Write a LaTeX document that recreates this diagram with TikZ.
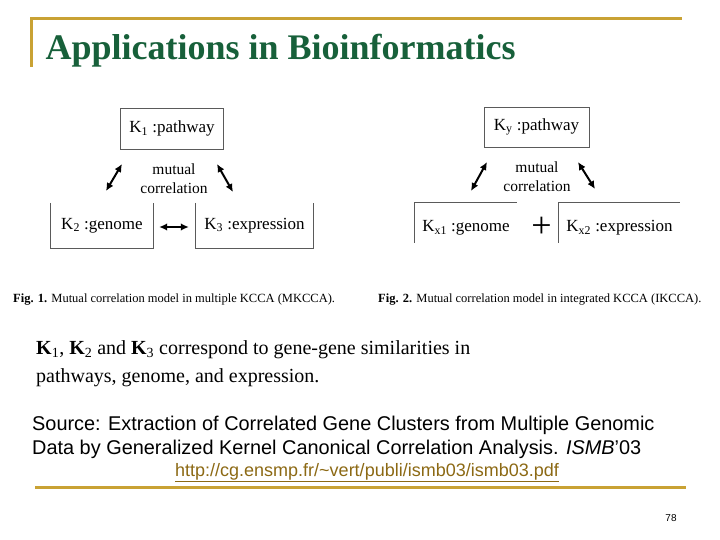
\documentclass[tikz,border=0pt]{standalone}
\usepackage{fontspec}
\setmainfont{Liberation Serif}
\newfontfamily\arialfont{Liberation Sans}
\usepackage{xcolor}
\usetikzlibrary{arrows.meta,positioning,calc}

\definecolor{slidegold}{RGB}{201,162,52}
\definecolor{titlegreen}{RGB}{23,96,58}
\definecolor{linkbrown}{RGB}{140,105,20}
\definecolor{boxgray}{RGB}{90,90,90}

\begin{document}
\begin{tikzpicture}[x=1pt, y=-1pt,
    boxline/.style={draw=boxgray, line width=0.8pt},
    kbox/.style={rectangle, inner sep=0pt, font=\fontsize{17}{20}\selectfont},
    mutual/.style={align=center, font=\fontsize{15.5}{19}\selectfont},
    dbl/.style={{Latex[length=8pt,width=7.5pt]}-{Latex[length=8pt,width=7.5pt]}, line width=2pt}]
    \useasboundingbox (0,0) rectangle (720,540);

    % Title bar
    \draw[slidegold, line width=3pt, line join=miter] (31,67) -- (31,18.5) -- (682,18.5);
    \node[anchor=base west, text=titlegreen, font=\fontsize{36}{40}\selectfont\bfseries] (title) at (42,60) {Applications in Bioinformatics};

    % Fig. 1 (MKCCA)
    \node[kbox, draw=boxgray, line width=0.8pt, minimum width=103pt, minimum height=41pt] (k1) at (172,128.5) {K\textsubscript{1} :pathway};
    \node[kbox, minimum width=102pt, minimum height=45pt] (k2) at (102,225.5) {K\textsubscript{2} :genome};
    \node[kbox, minimum width=117pt, minimum height=45pt] (k3) at (254.5,225.5) {K\textsubscript{3} :expression};
    \draw[boxline] (k2.north west) -- (k2.south west) -- (k2.south east) -- (k2.north east);
    \draw[boxline] (k3.north west) -- (k3.south west) -- (k3.south east) -- (k3.north east);
    \node[mutual] (mc1) at (174,179) {mutual\\correlation};

    \coordinate (a1-low) at (106,191);
    \coordinate (a1-up) at (122,164);
    \coordinate (a2-up) at (217,164);
    \coordinate (a2-low) at (233,192);
    \draw[dbl] (a1-low) -- (a1-up);
    \draw[dbl] (a2-up) -- (a2-low);
    \draw[dbl, shorten <=6pt, shorten >=7pt] ([yshift=-1.5pt]k2.east) -- ([yshift=-1.5pt]k3.west);

    % Fig. 2 (IKCCA)
    \node[kbox, draw=boxgray, line width=0.8pt, minimum width=105pt, minimum height=40pt] (ky) at (536.5,127) {K\textsubscript{y} :pathway};
    \node[kbox, minimum width=102pt, minimum height=50pt] (kx1) at (466,228) {K\textsubscript{x1} :genome};
    \node[kbox, minimum width=121pt, minimum height=50pt] (kx2) at (619.5,228) {K\textsubscript{x2} :expression};
    \draw[boxline] ([yshift=-40pt]kx1.north west) -- (kx1.north west) -- (kx1.north east);
    \draw[boxline] ([yshift=-40pt]kx2.north west) -- (kx2.north west) -- (kx2.north east);
    \node[anchor=base, inner sep=0pt, font=\fontsize{36}{40}\selectfont] (plus) at (541.5,237) {+};
    \node[mutual] (mc2) at (537,177) {mutual\\correlation};

    \coordinate (b1-low) at (471,191);
    \coordinate (b1-up) at (487,162);
    \coordinate (b2-up) at (578,162);
    \coordinate (b2-low) at (595,189);
    \draw[dbl] (b1-low) -- (b1-up);
    \draw[dbl] (b2-up) -- (b2-low);

    % Captions
    \node[anchor=base west, inner sep=0pt, font=\fontsize{12.5}{14}\selectfont] (cap1) at (13,302) {\textbf{Fig. 1.} Mutual correlation model in multiple KCCA (MKCCA).};
    \node[anchor=base west, inner sep=0pt, font=\fontsize{12.5}{14}\selectfont] (cap2) at (378,302) {\textbf{Fig. 2.} Mutual correlation model in integrated KCCA (IKCCA).};

    % Text below
    \node[anchor=base west, inner sep=0pt, align=left, font=\fontsize{20}{27.7}\selectfont] (blurb) at (36,382) {\textbf{K}\textsubscript{1}, \textbf{K}\textsubscript{2} and \textbf{K}\textsubscript{3} correspond to gene-gene similarities in\\pathways, genome, and expression.};
    \node[anchor=base west, inner sep=0pt, align=left, font=\arialfont\fontsize{19.9}{24}\selectfont] (source) at (32,454) {Source: Extraction of Correlated Gene Clusters from Multiple Genomic\\Data by Generalized Kernel Canonical Correlation Analysis. \textit{ISMB}’03};
    \node[anchor=base, inner sep=0pt, text=linkbrown, font=\arialfont\fontsize{18}{20}\selectfont] (url) at (367,476) {\underline{http://cg.ensmp.fr/\textasciitilde vert/publi/ismb03/ismb03.pdf}};

    % Bottom bar
    \draw[slidegold, line width=3pt] (35,487) -- (686,487);
    \node[anchor=base, inner sep=0pt, font=\arialfont\fontsize{10}{12}\selectfont] (pagenum) at (671,521) {78};
\end{tikzpicture}
\end{document}
